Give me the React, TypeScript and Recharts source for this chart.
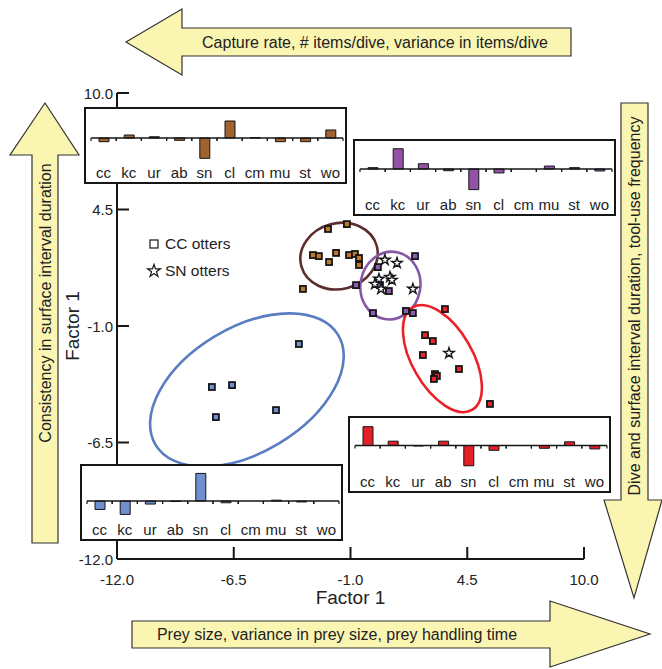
import React from 'react'
import { ScatterChart, Scatter, XAxis, YAxis, BarChart, Bar, ReferenceLine, Legend, Symbols } from 'recharts'

const FONT = '"Liberation Sans", Arial, sans-serif'

// main factor plot
const X_TICKS = [-12, -6.5, -1, 4.5, 10]
const Y_TICKS = [10, 4.5, -1, -6.5, -12]

const CC_BROWN = [
  { x: -2.06, y: 3.58 }, { x: -1.17, y: 3.81 }, { x: -2.77, y: 2.35 }, { x: -2.49, y: 2.3 },
  { x: -1.68, y: 2.45 }, { x: -2.01, y: 2.02 }, { x: -1.07, y: 2.35 }, { x: -0.79, y: 2.4 },
  { x: -0.6, y: 2.21 }, { x: -0.6, y: 1.88 }, { x: -3.24, y: 0.75 },
]
const CC_PURPLE = [
  { x: 2.04, y: 2.3 }, { x: 0.29, y: 1.78 }, { x: -0.74, y: 0.93 }, { x: 0.39, y: 0.93 },
  { x: 0.81, y: 0.65 }, { x: 0.06, y: -0.39 }, { x: 1.61, y: -0.29 }, { x: 1.94, y: -0.39 },
]
const CC_BLUE = [
  { x: -3.43, y: -1.85 }, { x: -7.53, y: -3.88 }, { x: -6.58, y: -3.79 },
  { x: -7.34, y: -5.3 }, { x: -4.51, y: -4.97 },
]
const CC_RED = [
  { x: 3.45, y: -0.2 }, { x: 2.51, y: -1.43 }, { x: 2.88, y: -1.71 }, { x: 2.41, y: -2.37 },
  { x: 4.11, y: -3.03 }, { x: 2.98, y: -3.27 }, { x: 3.07, y: -3.36 }, { x: 2.93, y: -3.5 },
  { x: 5.57, y: -4.68 },
]
const SN_OTTERS = [
  { x: 0.62, y: 2.12 }, { x: 1.19, y: 1.97 }, { x: 0.34, y: 1.22 }, { x: 0.86, y: 1.31 },
  { x: 0.95, y: 1.17 }, { x: 0.15, y: 0.98 }, { x: 0.44, y: 0.75 }, { x: 1.94, y: 0.75 },
  { x: 3.64, y: -2.28 },
]
// cluster ellipses: centre, semi-axes (factor units), tilt in degrees
const ELLIPSES = [
  { x: -5.88, y: -4.02, rx: 5.02, ry: 2.94, tilt: -31 },
  { x: -1.54, y: 2.3, rx: 1.84, ry: 1.55, tilt: -15 },
  { x: 0.88, y: 0.91, rx: 1.41, ry: 1.6, tilt: 10 },
  { x: 3.33, y: -2.54, rx: 2.79, ry: 1.42, tilt: 60 },
]
const ELLIPSE_COLORS = ['#5a7dc2', '#5e2e2e', '#8657a6', '#ec2028']

// inset bar charts
const CATEGORIES = ['cc', 'kc', 'ur', 'ab', 'sn', 'cl', 'cm', 'mu', 'st', 'wo']
const BROWN_BARS = [-0.41, 0.33, 0.14, -0.26, -2.26, 1.89, 0.05, -0.41, -0.41, 0.89]
const PURPLE_BARS = [0.15, 2.26, 0.59, -0.19, -2.3, -0.44, 0, 0.33, 0.15, -0.22]
const BLUE_BARS = [-0.93, -1.48, -0.33, -0.05, 3.07, -0.19, 0, 0.1, -0.1, 0]
const RED_BARS = [2.07, 0.48, -0.05, 0.48, -2.22, -0.52, 0, -0.3, 0.41, -0.37]

const W = 662
const H = 669
const M = { top: 93, right: 78, bottom: 80, left: 77 }
const PLOT_W = W - M.left - 40 - M.right
const PX = PLOT_W / 22

const INK = '#161616'

const BottomTick = (p: any) => (
  <g>
    <line x1={p.x} x2={p.x} y1={p.y} y2={p.y - 12} stroke={INK} strokeWidth={2} />
    <text x={p.x} y={p.y + 20} textAnchor="middle" dominantBaseline="central" fontSize={15} fill="#222" fontFamily={FONT}>
      {p.payload.value.toFixed(1)}
    </text>
  </g>
)
const TopTick = (p: any) => <line x1={p.x} x2={p.x} y1={p.y} y2={p.y + 12} stroke={INK} strokeWidth={2} />
const LeftTick = (p: any) => (
  <g>
    <line x1={p.x} x2={p.x + 12} y1={p.y} y2={p.y} stroke={INK} strokeWidth={2} />
    <text x={p.x - 4} y={p.y} textAnchor="end" dominantBaseline="central" fontSize={15} fill="#222" fontFamily={FONT}>
      {p.payload.value.toFixed(1)}
    </text>
  </g>
)
const RightTick = (p: any) => <line x1={p.x} x2={p.x - 12} y1={p.y} y2={p.y} stroke={INK} strokeWidth={2} />

const square = (fill: string) => (p: any) => (
  <rect x={p.cx - 3} y={p.cy - 3} width={6} height={6} fill={fill} stroke={INK} strokeWidth={1.8} />
)
const star = (p: any) => (
  <Symbols cx={p.cx} cy={p.cy} type="star" size={34} fill="#fff" stroke={INK} strokeWidth={1.4} />
)
const ellipseShape = (p: any) => {
  const e = p.payload
  return (
    <ellipse cx={p.cx} cy={p.cy} rx={e.rx * PX} ry={e.ry * PX} transform={`rotate(${e.tilt} ${p.cx} ${p.cy})`}
      fill="none" stroke={ELLIPSE_COLORS[ELLIPSES.indexOf(e)]} strokeWidth={2.6} />
  )
}

const LegendBox = () => (
  <div style={{ fontFamily: FONT, fontSize: 15.5, color: '#222', lineHeight: '27px' }}>
    <div style={{ display: 'flex', alignItems: 'center' }}>
      <svg width={16} height={14}><rect x={4} y={3} width={8} height={8} fill="#fff" stroke={INK} strokeWidth={1.2} /></svg>
      <span style={{ marginLeft: 3 }}>CC otters</span>
    </div>
    <div style={{ display: 'flex', alignItems: 'center' }}>
      <svg width={16} height={16}><Symbols cx={8} cy={8} type="star" size={50} fill="#fff" stroke={INK} strokeWidth={1.2} /></svg>
      <span style={{ marginLeft: 3 }}>SN otters</span>
    </div>
  </div>
)

type InsetProps = { values: number[]; color: string; domain: [number, number]; left: number; top: number; dashed?: boolean }

function Inset({ values, color, domain, left, top, dashed }: InsetProps) {
  const data = CATEGORIES.map((c, i) => ({ c, v: values[i] }))
  const plotH = 52
  const band = 252 / CATEGORIES.length
  const zeroUp = (plotH * -domain[0]) / (domain[1] - domain[0])
  const CatTick = (p: any) => (
    <g>
      <line x1={p.x - band / 2} x2={p.x - band / 2} y1={p.y - zeroUp} y2={p.y - zeroUp + 3} stroke={INK} strokeWidth={1.2} />
      <line x1={p.x + band / 2} x2={p.x + band / 2} y1={p.y - zeroUp} y2={p.y - zeroUp + 3} stroke={INK} strokeWidth={1.2} />
      <text x={p.x} y={p.y + 9} textAnchor="middle" dominantBaseline="central" fontSize={15} fill="#222" fontFamily={FONT}>
        {p.payload.value}
      </text>
    </g>
  )
  const ValTick = (p: any) => <line x1={p.x} x2={p.x + 4} y1={p.y} y2={p.y} stroke={INK} strokeWidth={1.2} />
  return (
    <div style={{ position: 'absolute', left, top, width: 263, height: 77, boxSizing: 'border-box', border: `2px solid ${INK}`, background: '#fff' }}>
      <BarChart width={259} height={73} data={data} margin={{ top: 2, right: 2, bottom: 0, left: 5 }}>
        <XAxis dataKey="c" axisLine={false} tickLine={false} tickSize={0} tickMargin={0} interval={0} height={19} tick={<CatTick />} />
        <YAxis type="number" domain={domain} allowDataOverflow ticks={[-1, 1]} width={0} tickLine={false} tickSize={0} tickMargin={0}
          axisLine={{ stroke: INK, strokeWidth: 1.5, strokeDasharray: dashed ? '3 2' : undefined }} tick={<ValTick />} />
        <ReferenceLine y={0} stroke={INK} strokeWidth={1.6} />
        <Bar dataKey="v" fill={color} stroke={INK} strokeWidth={1} barSize={10} isAnimationActive={false} />
      </BarChart>
    </div>
  )
}

const ARROW = { fill: '#fbf5b2', stroke: '#333', strokeWidth: 1.2 }
const ARROW_TEXT = { textAnchor: 'middle' as const, dominantBaseline: 'central' as const, fontSize: 16, fill: '#222', fontFamily: FONT }

function Arrows() {
  return (
    <svg width={W} height={H} style={{ position: 'absolute', left: 0, top: 0 }}>
      <polygon points="126,42 182,9 182,28 571,28 571,56 182,56 182,75" {...ARROW} />
      <text x={375} y={42} {...ARROW_TEXT}>Capture rate, # items/dive, variance in items/dive</text>
      <polygon points="45,103 79,155 58,155 58,543 32,543 32,155 10,155" {...ARROW} />
      <text x={45} y={303} {...ARROW_TEXT} transform="rotate(-90 45 303)">Consistency in surface interval duration</text>
      <polygon points="621,103 648,103 648,500 662,500 634,598 604,500 621,500" {...ARROW} />
      <text x={634} y={306} {...ARROW_TEXT} transform="rotate(-90 634 306)">Dive and surface interval duration, tool-use frequency</text>
      <polygon points="132,621 550,621 550,601 650,634 550,667 550,648 132,648" {...ARROW} />
      <text x={337} y={634} {...ARROW_TEXT}>Prey size, variance in prey size, prey handling time</text>
    </svg>
  )
}

export default function App() {
  const frame = { stroke: INK, strokeWidth: 2 }
  return (
    <div style={{ position: 'relative', width: W, height: H, background: '#fff', fontFamily: FONT }}>
      <style>{'body{margin:0}'}</style>
      <Arrows />
      <div style={{ position: 'absolute', left: 0, top: 0 }}>
        <ScatterChart width={W} height={H} margin={M}>
          <XAxis type="number" dataKey="x" domain={[-12, 10]} ticks={X_TICKS} height={30} axisLine={frame}
            tickLine={false} tickSize={0} tickMargin={0} tick={<BottomTick />}
            label={{ value: 'Factor 1', position: 'bottom', offset: 2, fontSize: 19, fill: '#222', fontFamily: FONT }} />
          <XAxis xAxisId="top" orientation="top" type="number" domain={[-12, 10]} ticks={X_TICKS} height={0} axisLine={frame}
            tickLine={false} tickSize={0} tickMargin={0} tick={<TopTick />} />
          <YAxis type="number" dataKey="y" domain={[-12, 10]} ticks={Y_TICKS} width={40} axisLine={frame}
            tickLine={false} tickSize={0} tickMargin={0} tick={<LeftTick />}
            label={{ value: 'Factor 1', angle: -90, position: 'insideLeft', offset: -5, fontSize: 19, fill: '#222', fontFamily: FONT, style: { textAnchor: 'middle' } }} />
          <YAxis yAxisId="right" orientation="right" type="number" domain={[-12, 10]} ticks={Y_TICKS} width={0} axisLine={frame}
            tickLine={false} tickSize={0} tickMargin={0} tick={<RightTick />} />
          <Legend layout="vertical" align="center" verticalAlign="middle" wrapperStyle={{ left: 146, top: 230, width: 120 }} content={() => <LegendBox />} />
          <Scatter name="clusters" data={ELLIPSES} shape={ellipseShape} legendType="none" isAnimationActive={false} />
          <Scatter name="CC brown" data={CC_BROWN} shape={square('#c0792c')} isAnimationActive={false} />
          <Scatter name="CC purple" data={CC_PURPLE} shape={square('#8e5cb2')} isAnimationActive={false} />
          <Scatter name="CC blue" data={CC_BLUE} shape={square('#6d90d2')} isAnimationActive={false} />
          <Scatter name="CC red" data={CC_RED} shape={square('#e8252c')} isAnimationActive={false} />
          <Scatter name="SN otters" data={SN_OTTERS} shape={star} isAnimationActive={false} />
        </ScatterChart>
      </div>
      <Inset values={BROWN_BARS} color="#a0622e" domain={[-2.78, 3]} left={84} top={107} />
      <Inset values={PURPLE_BARS} color="#9252a8" domain={[-2.9, 2.9]} left={353} top={139} />
      <Inset values={BLUE_BARS} color="#6f8fcf" domain={[-2.1, 3.67]} left={80} top={464} dashed />
      <Inset values={RED_BARS} color="#e41f27" domain={[-2.9, 2.8]} left={348} top={416} />
    </div>
  )
}
